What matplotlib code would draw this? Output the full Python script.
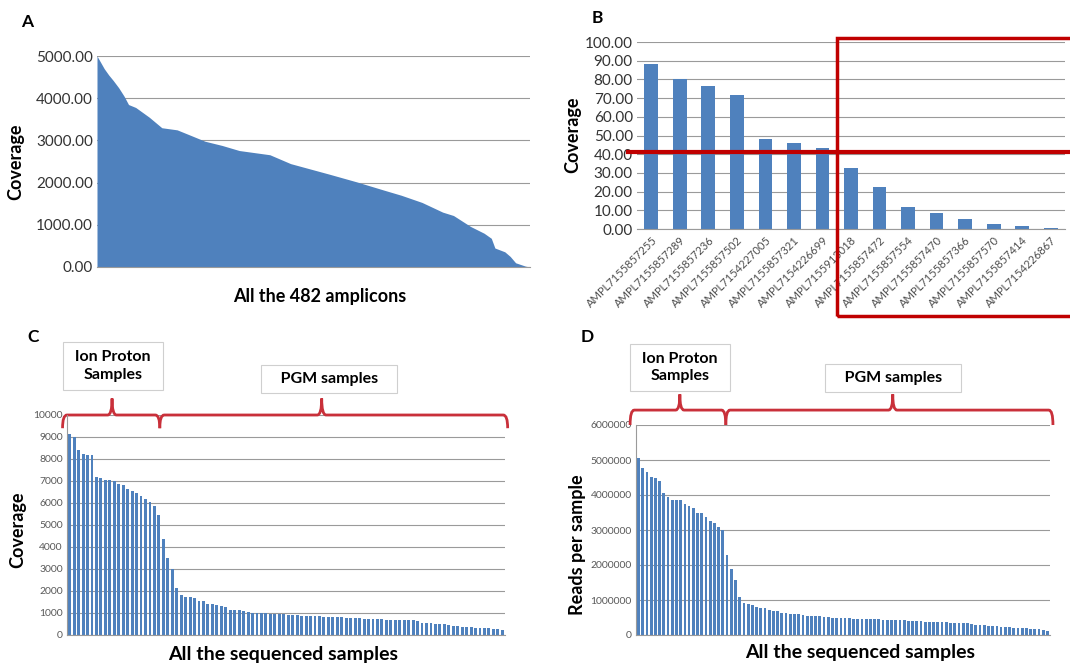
import numpy as np
import matplotlib
matplotlib.use("Agg")
import matplotlib.pyplot as plt
from matplotlib.path import Path
from matplotlib.patches import PathPatch, Rectangle

plt.rcParams['font.family'] = ['Lato', 'DejaVu Sans']

# ---- data ----
# A: coverage of all 482 amplicons, sorted (rank, coverage)
a_rank = [0, 4, 8, 13, 18, 24, 30, 35, 43, 58, 72, 89, 104, 120, 139, 158, 192, 215,
          258, 288, 319, 338, 361, 384, 396, 415, 430, 438, 442, 453, 459, 465, 476, 481]
a_cov = [5000, 4850, 4700, 4550, 4420, 4250, 4050, 3850, 3780, 3550, 3300, 3250, 3120,
         2980, 2880, 2760, 2660, 2450, 2200, 2020, 1820, 1700, 1530, 1300, 1220, 960,
         800, 680, 450, 360, 250, 100, 20, 0]

# B: low coverage amplicons
b_names = ['AMPL7155857255', 'AMPL7155857289', 'AMPL7155857236', 'AMPL7155857502',
           'AMPL7154227005', 'AMPL7155857321', 'AMPL7154226699', 'AMPL7155913018',
           'AMPL7155857472', 'AMPL7155857554', 'AMPL7155857470', 'AMPL7155857366',
           'AMPL7155857570', 'AMPL7155857414', 'AMPL7154226867']
b_cov = [88.0, 80.0, 76.5, 71.5, 48.0, 46.0, 43.5, 32.5, 22.5, 11.8, 8.3, 5.4, 2.5, 1.5, 0.5]
b_cut = 41

# C: coverage per sequenced sample
c_cov = [9150, 9000, 8400, 8250, 8200, 8180,
         7200, 7150, 7050, 7030, 7020, 6850, 6820, 6650, 6550, 6450, 6300, 6200, 6050, 5850, 5450,
         4350, 3500, 3000, 2150,
         1800, 1750, 1720, 1700, 1550, 1530, 1420, 1400, 1380, 1300, 1290, 1150,
         1140, 1120, 1080, 1050, 1020, 1000, 990, 980, 970, 960, 950, 940, 920, 900,
         890, 880, 880, 870, 860, 850, 840, 830, 820, 810, 800, 790, 780, 770, 760,
         750, 740, 730, 720, 710, 700, 700, 690, 680, 680, 670, 660, 650,
         560, 550, 540, 520, 500, 480, 460, 420, 390, 370, 360, 350, 340, 330, 320,
         300, 280, 260, 240]

# D: reads per sequenced sample
d_reads = [5050000, 4780000, 4650000, 4520000, 4480000, 4400000, 4070000, 3950000,
           3860000, 3850000, 3850000, 3750000, 3680000, 3640000, 3500000, 3480000,
           3380000, 3250000, 3200000, 3100000, 3000000,
           2300000, 1900000, 1580000, 1100000,
           920000, 880000, 860000, 800000, 780000, 770000, 720000, 700000, 680000,
           640000, 620000, 610000, 600000, 590000, 560000, 550000, 540000, 540000,
           530000, 520000, 510000, 500000, 500000, 490000, 490000, 480000, 470000,
           470000, 460000, 460000, 460000, 450000, 450000, 440000, 440000, 430000,
           430000, 420000, 420000, 410000, 400000, 400000, 390000, 380000, 380000,
           370000, 370000, 360000, 360000, 350000, 350000, 345000,
           340000, 330000, 310000, 300000, 290000, 280000, 270000, 260000, 250000,
           240000, 230000, 220000, 210000, 200000, 200000, 190000, 180000, 170000,
           160000, 150000, 120000]

n_proton = 21  # first samples are Ion Proton

blue = '#4F81BD'
grid = '#9a9a9a'
red_b = '#C00000'
red_c = '#C9303A'


def brace(ax, x0, x1, xm, y, down, up, dx, color):
    # curly brace: x in data units, y in axes fraction
    verts = [(x0, y - down), (x0, y), (x0 + dx, y),
             (xm - dx, y), (xm, y), (xm, y + up),
             (xm, y), (xm + dx, y),
             (x1 - dx, y), (x1, y), (x1, y - down)]
    codes = [Path.MOVETO, Path.CURVE3, Path.CURVE3,
             Path.LINETO, Path.CURVE3, Path.CURVE3,
             Path.CURVE3, Path.CURVE3,
             Path.LINETO, Path.CURVE3, Path.CURVE3]
    p = PathPatch(Path(verts, codes), fc='none', ec=color, lw=2,
                  transform=ax.get_xaxis_transform(), clip_on=False)
    ax.add_patch(p)


def style(ax, ticksize, tickcolor):
    for s in ['top', 'right', 'left']:
        ax.spines[s].set_visible(False)
    ax.spines['bottom'].set_color(grid)
    ax.yaxis.grid(True, color=grid, lw=0.8)
    ax.set_axisbelow(True)
    ax.tick_params(axis='y', length=0, labelsize=ticksize, labelcolor=tickcolor, pad=3)
    ax.tick_params(axis='x', length=0)


W, H = 1070, 664
fig = plt.figure(figsize=(W / 100, H / 100), dpi=100)


def box(l, r, t, b):
    return [l / W, 1 - b / H, (r - l) / W, (b - t) / H]


# ---- A ----
axA = fig.add_axes(box(97, 530, 56, 267))
axA.fill_between(a_rank, a_cov, color=blue, lw=0)
axA.set_xlim(0, 481)
axA.set_ylim(0, 5000)
axA.set_yticks(np.arange(0, 5001, 1000))
axA.set_yticklabels(['%.2f' % v for v in np.arange(0, 5001, 1000)])
axA.set_xticks([])
style(axA, 11, '#333333')
fig.text(0.299, 0.553, 'All the 482 amplicons', ha='center', va='center',
         fontsize=13, fontweight='bold')
fig.text(0.015, 0.756, 'Coverage', rotation=90, ha='center', va='center',
         fontsize=13, fontweight='bold')
fig.text(0.025, 0.967, 'A', ha='center', va='center', fontsize=12.5, fontweight='bold')

# ---- B ----
axB = fig.add_axes(box(637, 1065, 42, 229))
xb = np.arange(len(b_cov))
axB.bar(xb, b_cov, width=0.48, color=blue)
axB.set_xlim(-0.5, len(b_cov) - 0.5)
axB.set_ylim(0, 100)
axB.set_yticks(np.arange(0, 101, 10))
axB.set_yticklabels(['%.2f' % v for v in np.arange(0, 101, 10)])
style(axB, 11, '#333333')
axB.set_xticks(xb)
axB.set_xticklabels(b_names, rotation=45, ha='right', rotation_mode='anchor',
                    fontsize=8, color='#4d4d4d')
axB.tick_params(axis='x', pad=4)
axB.plot([-0.02, 1.02], [b_cut, b_cut], color=red_b, lw=3,
         transform=axB.get_yaxis_transform(), clip_on=False, zorder=5)
axB.add_patch(Rectangle((6.5, -0.465), 8.5, 1.485, fill=False, ec=red_b, lw=2.5,
                        transform=axB.get_xaxis_transform(), clip_on=False, zorder=5))
fig.text(0.535, 0.797, 'Coverage', rotation=90, ha='center', va='center',
         fontsize=13, fontweight='bold')
fig.text(0.558, 0.973, 'B', ha='center', va='center', fontsize=12.5, fontweight='bold')

# ---- C ----
axC = fig.add_axes(box(67, 505, 415, 635))
xc = np.arange(len(c_cov))
axC.bar(xc, c_cov, width=0.65, color=blue)
axC.set_xlim(-0.6, len(c_cov) - 0.4)
axC.set_ylim(0, 10000)
axC.set_yticks(np.arange(0, 10001, 1000))
axC.set_xticks([])
style(axC, 7.5, '#595959')
axC.spines['left'].set_visible(True)
axC.spines['left'].set_color(grid)
brace(axC, -1.6, n_proton - 0.8, 9.5, 1.0, 0.06, 0.075, 1.0, red_c)
brace(axC, n_proton - 0.8, len(c_cov) + 0.2, 56.5, 1.0, 0.06, 0.075, 1.0, red_c)
fig.text(0.2645, 0.014, 'All the sequenced samples', ha='center', va='center',
         fontsize=14, fontweight='bold')
fig.text(0.0168, 0.202, 'Coverage', rotation=90, ha='center', va='center',
         fontsize=13, fontweight='bold')
fig.text(0.031, 0.4925, 'C', ha='center', va='center', fontsize=12.5, fontweight='bold')
bb = dict(boxstyle='square,pad=0.5', fc='white', ec='#cfcfcf', lw=0.8)
bp = dict(boxstyle='square,pad=0.45', fc='white', ec='#cfcfcf', lw=0.8)
fig.text(0.1056, 0.449, ' Ion Proton \nSamples', ha='center', va='center', fontsize=11.5,
         fontweight='bold', linespacing=1.3, bbox=bb)
fig.text(0.3075, 0.429, '   PGM samples   ', ha='center', va='center', fontsize=11.5,
         fontweight='bold', bbox=bp)

# ---- D ----
axD = fig.add_axes(box(636, 1050, 425, 635))
xd = np.arange(len(d_reads))
axD.bar(xd, d_reads, width=0.65, color=blue)
axD.set_xlim(-0.6, len(d_reads) - 0.4)
axD.set_ylim(0, 6000000)
axD.set_yticks(np.arange(0, 6000001, 1000000))
axD.set_yticklabels(['%d' % v for v in np.arange(0, 6000001, 1000000)])
axD.set_xticks([])
style(axD, 7.5, '#595959')
axD.spines['left'].set_visible(True)
axD.spines['left'].set_color(grid)
brace(axD, -2.0, n_proton - 0.3, 9.8, 1.071, 0.071, 0.075, 1.0, red_c)
brace(axD, n_proton - 0.3, len(d_reads) + 0.3, 60.3, 1.071, 0.071, 0.075, 1.0, red_c)
fig.text(0.8037, 0.018, 'All the sequenced samples', ha='center', va='center',
         fontsize=14, fontweight='bold')
fig.text(0.540, 0.179, 'Reads per sample', rotation=90, ha='center', va='center',
         fontsize=13, fontweight='bold')
fig.text(0.5486, 0.4925, 'D', ha='center', va='center', fontsize=12.5, fontweight='bold')
fig.text(0.6355, 0.447, ' Ion Proton \nSamples', ha='center', va='center', fontsize=11.5,
         fontweight='bold', linespacing=1.3, bbox=bb)
fig.text(0.8346, 0.4307, '   PGM samples   ', ha='center', va='center', fontsize=11.5,
         fontweight='bold', bbox=bp)

fig.savefig('out.png', dpi=100)
